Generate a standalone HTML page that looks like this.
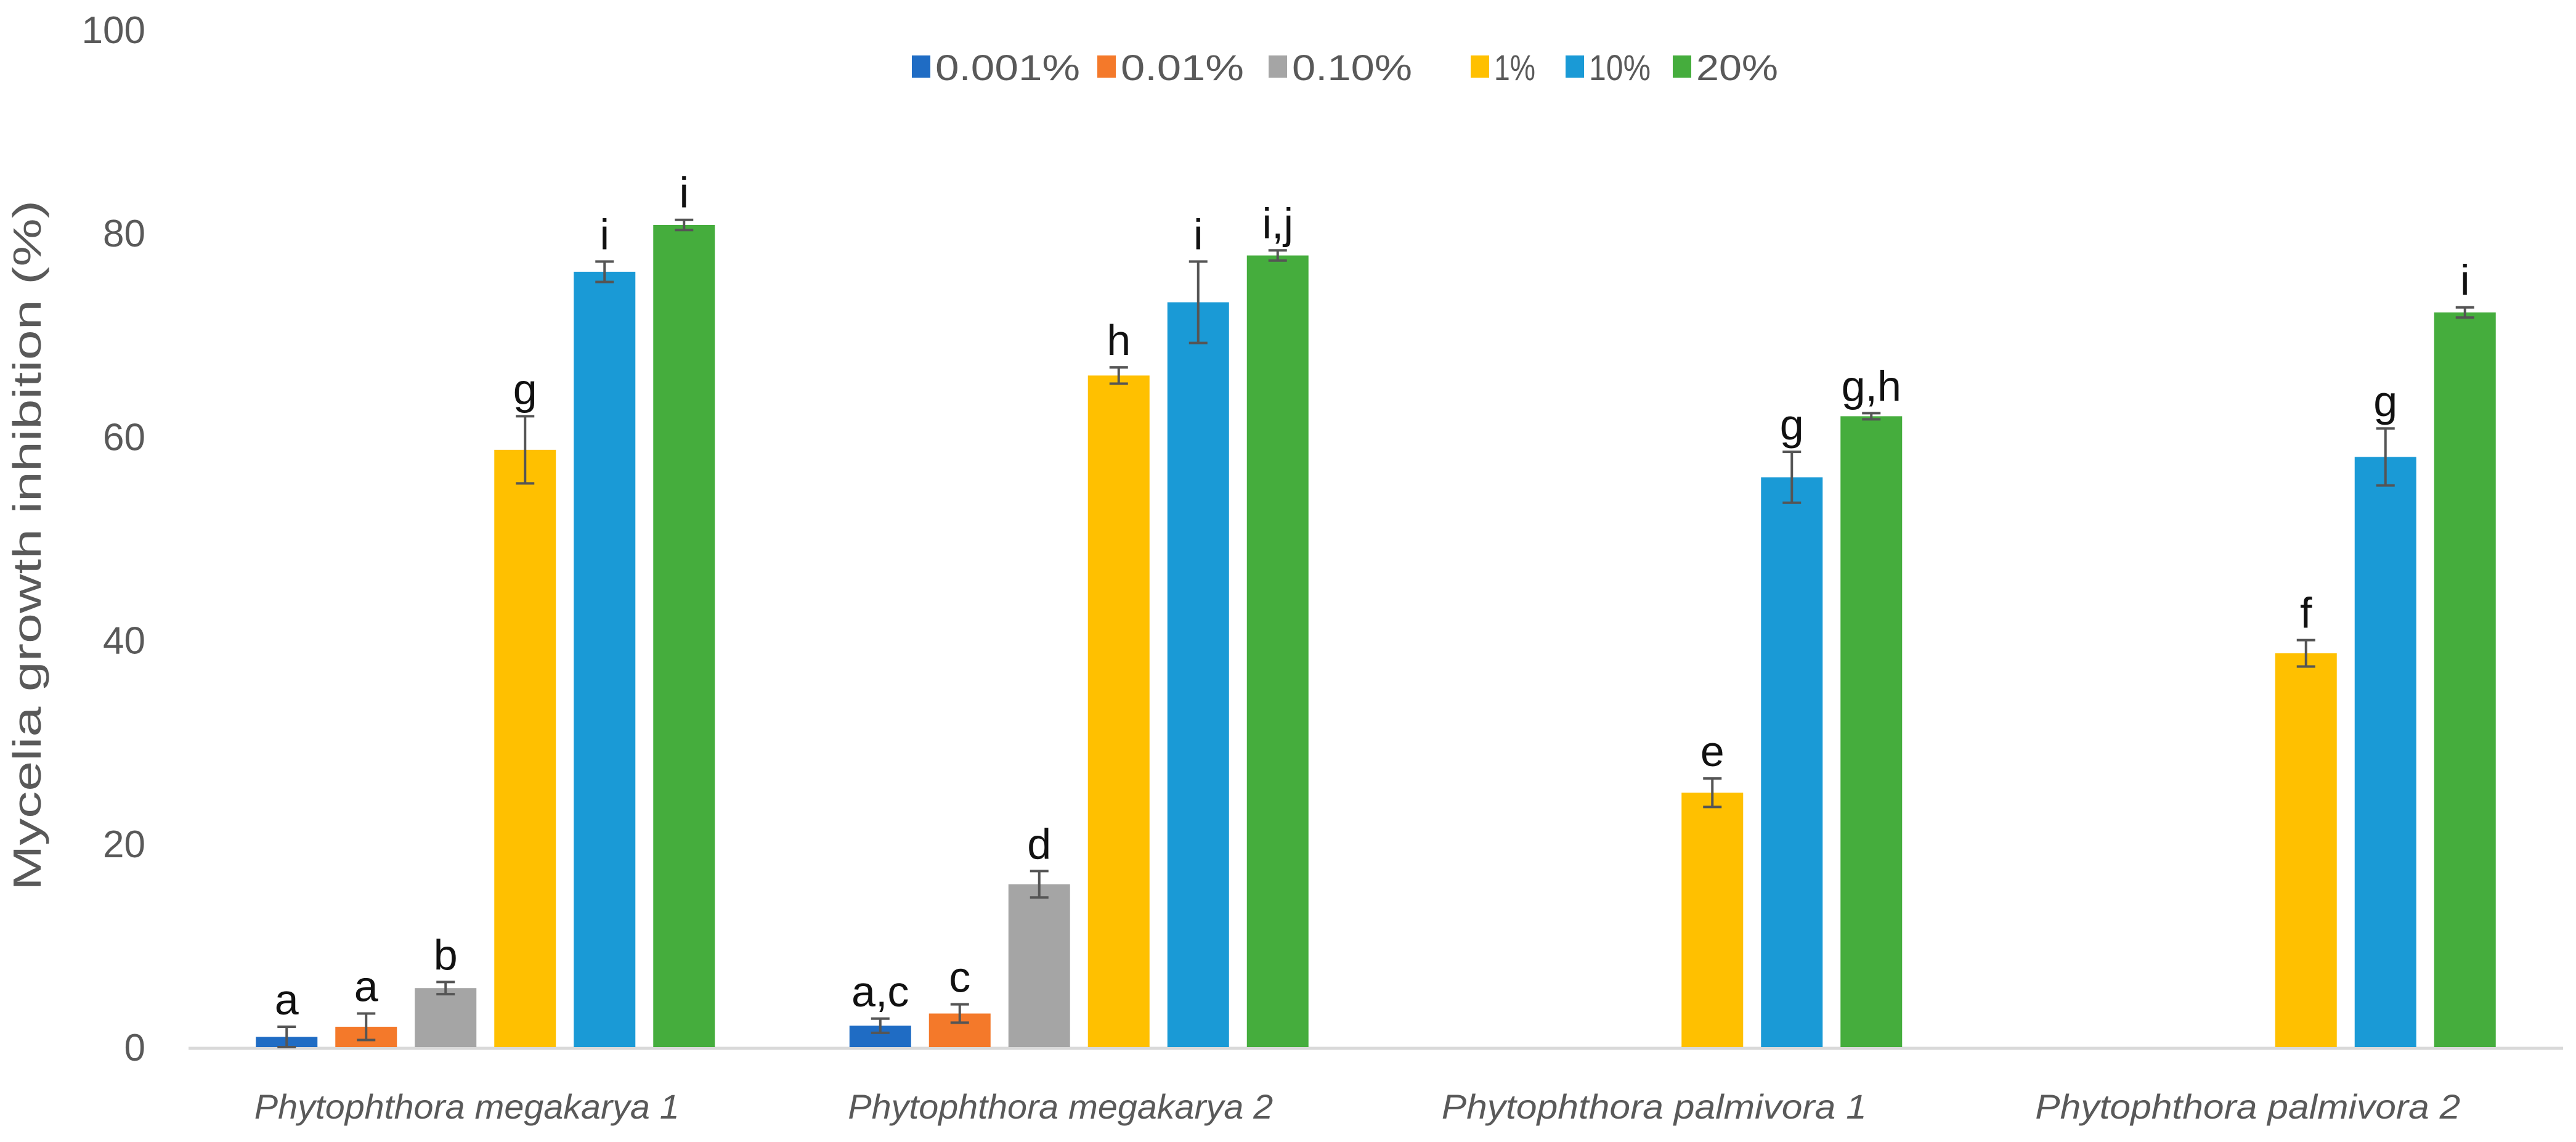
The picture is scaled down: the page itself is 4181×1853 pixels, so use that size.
<!DOCTYPE html>
<html><head><meta charset="utf-8"><style>
html,body{margin:0;padding:0;background:#fff;}
svg{display:block;font-family:"Liberation Sans","DejaVu Sans",sans-serif;}
</style></head><body>
<svg id="chart" width="4181" height="1853" viewBox="0 0 4181 1853" xmlns="http://www.w3.org/2000/svg">
<g id="axes"></g>
<g id="bars"></g>
<g id="legend"></g>
<text transform="translate(66,885) rotate(-90)" text-anchor="middle" font-size="64" fill="#595959" textLength="1120" lengthAdjust="spacingAndGlyphs">Mycelia growth inhibition (%)</text>
</svg>
<script>
const categories = ["Phytophthora megakarya 1","Phytophthora megakarya 2","Phytophthora palmivora 1","Phytophthora palmivora 2"];
const seriesNames = ["0.001%","0.01%","0.10%","1%","10%","20%"];
const seriesColors = ["#1f6cc4","#f4792a","#a5a5a5","#ffc000","#1a9ad6","#45ad3d"];
const s0001 = [1.0, 2.1, null, null];
const s001 = [2.0, 3.3, null, null];
const s010 = [5.8, 16.0, null, null];
const s1 = [58.7, 66.0, 25.0, 38.7];
const s10 = [76.2, 73.2, 56.0, 58.0];
const s20 = [80.8, 77.8, 62.0, 72.2];
const e0001 = [1.0, 0.7, null, null];
const e001 = [1.3, 0.9, null, null];
const e010 = [0.6, 1.3, null, null];
const e1 = [3.3, 0.8, 1.4, 1.3];
const e10 = [1.0, 4.0, 2.5, 2.8];
const e20 = [0.5, 0.5, 0.3, 0.5];
const l0001 = ["a","a,c","",""];
const l001 = ["a","c","",""];
const l010 = ["b","d","",""];
const l1 = ["g","h","e","f"];
const l10 = ["i","i","g","g"];
const l20 = ["i","i,j","g,h","i"];
const yTicks = [0,20,40,60,80,100];

const series=[s0001,s001,s010,s1,s10,s20];
const errs=[e0001,e001,e010,e1,e10,e20];
const labs=[l0001,l001,l010,l1,l10,l20];
const NS="http://www.w3.org/2000/svg";
const X0=306,X1=4160,Y0=1699,YT=48;
const catW=(X1-X0)/categories.length, pitch=129, barW=100;
function y(v){return Y0-(v/100)*(Y0-YT);}
function xBar(c,s){return X0+catW*(c+0.5)+(s-2.5)*pitch-barW/2;}
function mk(tag,attrs,parent){const e=document.createElementNS(NS,tag);for(const k in attrs)e.setAttribute(k,attrs[k]);parent.appendChild(e);return e;}
const axes=document.getElementById('axes'),bars=document.getElementById('bars'),legend=document.getElementById('legend');
const axisLine=mk('line',{x1:X0,x2:X1,y1:Y0+2,y2:Y0+2,stroke:'#d9d9d9','stroke-width':5},axes);


yTicks.forEach(t=>{
  const tx=mk('text',{x:236,y:y(t)+22,'text-anchor':'end','font-size':62,fill:'#595959'},axes);
  tx.textContent=t;
  
  
});
categories.forEach((c,i)=>{
  const tx=mk('text',{x:X0+catW*(i+0.5)-30,y:1815,'text-anchor':'middle','font-size':56,'font-style':'italic',fill:'#595959',textLength:690,lengthAdjust:'spacingAndGlyphs'},axes);
  tx.textContent=c;
  
  
});
series.forEach((ser,s)=>{
  ser.forEach((v,c)=>{
    if(v===null)return;
    const x=xBar(c,s);
    const r=mk('rect',{x:x,y:y(v),width:barW,height:Y0-y(v),fill:seriesColors[s]},bars);
    
    
    const e=errs[s][c],cx=x+barW/2;
    const g=mk('g',{stroke:'#555','stroke-width':4},bars);
    
    
    mk('line',{x1:cx,x2:cx,y1:y(v+e),y2:y(v-e)},g);
    mk('line',{x1:cx-15,x2:cx+15,y1:y(v+e),y2:y(v+e)},g);
    mk('line',{x1:cx-15,x2:cx+15,y1:y(v-e),y2:y(v-e)},g);
    const lt=mk('text',{x:cx,y:y(v+e)-20,'text-anchor':'middle','font-size':70,fill:'#111'},bars);
    lt.textContent=labs[s][c];
    
    
  });
});
const legX=[1480,1781,2059,2387,2541,2715];
const legW=[235,200,195,67,100,133];
seriesNames.forEach((n,i)=>{
  const g=mk('g',{},legend);
  
  
  mk('rect',{x:legX[i],y:90,width:30,height:36,fill:seriesColors[i]},g);
  const t=mk('text',{x:legX[i]+38,y:130,'font-size':58,fill:'#595959',textLength:legW[i],lengthAdjust:'spacingAndGlyphs'},g);
  t.textContent=n;
});
</script>
</body></html>
